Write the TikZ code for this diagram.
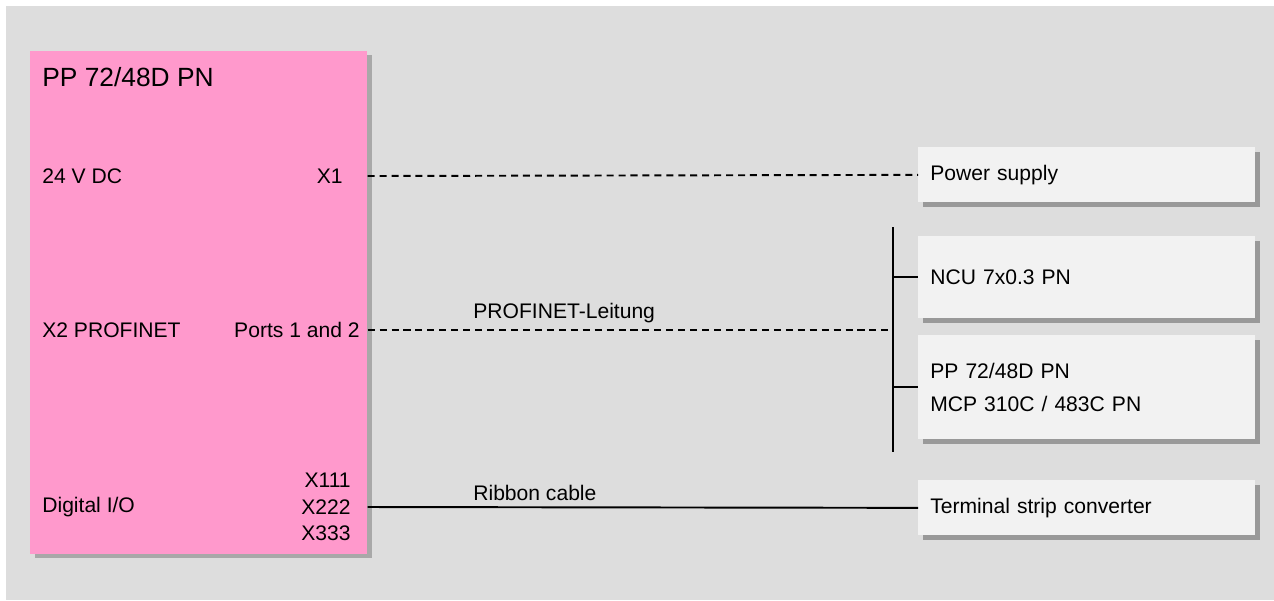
\documentclass[tikz,border=0pt]{standalone}
\usepackage{fontspec}
\setmainfont{Liberation Sans}
\usepackage{tikz}
\usetikzlibrary{calc,positioning,shadows}
\definecolor{panelgray}{RGB}{221,221,221}
\definecolor{modpink}{RGB}{255,153,204}
\definecolor{boxwhite}{RGB}{242,242,242}
\definecolor{shadegray}{RGB}{153,153,153}
\tikzset{
  devbox/.style={fill=boxwhite,anchor=north west,inner xsep=0.24cm,
    text width=6.26cm,align=left,minimum height=#1,
    font={\fontsize{12}{18.7}\selectfont},
    drop shadow={shadow xshift=0.1cm,shadow yshift=-0.1cm,fill=shadegray,opacity=1}},
  lbl/.style={font=\fontsize{12}{14.4}\selectfont,inner sep=0pt},
  dashline/.style={line width=1.1pt,dash pattern=on 4pt off 2.8pt},
  wire/.style={line width=1.1pt}
}

\begin{document}
\begin{tikzpicture}[x=0.02cm,y=-0.02cm]
      \useasboundingbox (0,0) rectangle (1274,600);
      \fill[panelgray] (6,6) rectangle (1274,600);
      \node[fill=modpink,anchor=north west,minimum width=6.74cm,minimum height=10.06cm,
            drop shadow={shadow xshift=0.09cm,shadow yshift=-0.08cm,fill=shadegray!85,opacity=1}]
            (pp) at (30,51) {};
      \node[lbl,font=\fontsize{15}{18}\selectfont,anchor=base west] (title) at (42,86) {PP 72/48D PN};
      \node[lbl,anchor=west] (dc) at (42,176) {24 V DC};
      \node[lbl,anchor=east] (x1) at (343,176) {X1};
      \node[lbl,anchor=west] (pnet) at (42,330) {X2 PROFINET};
      \node[lbl,anchor=east] (ports) at (360,330) {Ports 1 and 2};
      \node[lbl,anchor=west] (dio) at (42,507) {Digital I/O};
      \node[lbl,anchor=east,align=right,font={\fontsize{12}{15}\selectfont}] (xio) at (351,507) {X111\\X222\\X333};
      % devices
      \node[devbox=1.1cm] (power) at (918,147) {Power supply};
      \node[devbox=1.64cm] (ncu) at (918,236) {NCU 7x0.3 PN};
      \node[devbox=2.08cm] (ppmcp) at (918,335) {PP 72/48D PN\\MCP 310C / 483C PN};
      \node[devbox=1.1cm] (term) at (918,480) {Terminal strip converter};
      % bus
      \coordinate (bustop) at (893,227);
      \coordinate (busbot) at (893,452);
      \draw[wire] (bustop) -- (busbot);
      \draw[wire] (bustop |- ncu.west) -- (ncu.west);
      \draw[wire] (bustop |- ppmcp.west) -- (ppmcp.west);
      % connections
      \draw[dashline] (pp.east |- x1) -- (power.west);
      \draw[dashline] (pp.east |- ports) -- (bustop |- ports);
      \draw[wire] (pp.east |- xio) -- (term.west);
      \node[lbl,anchor=west] (pnline) at (473,313) {PROFINET-Leitung};
      \node[lbl,anchor=west] (ribbon) at (473,493) {Ribbon cable};
    \end{tikzpicture}
\end{document}
